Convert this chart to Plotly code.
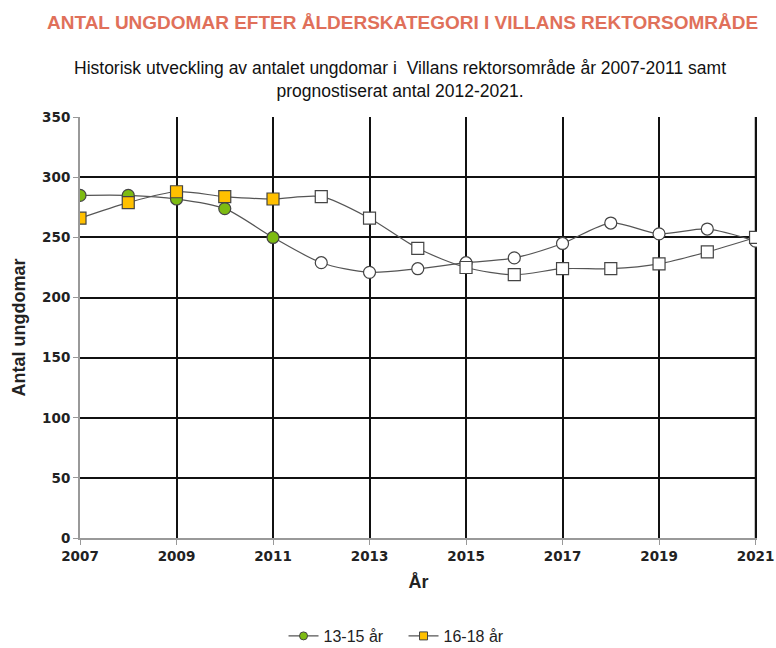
import plotly.graph_objects as go

years = list(range(2007, 2022))
ung_13_15 = [285, 285, 282, 274, 250, 229, 221, 224, 229, 233, 245, 262, 253, 257, 247]
ung_16_18 = [266, 279, 288, 284, 282, 284, 266, 241, 225, 219, 224, 224, 228, 238, 250]
historic_years = [2007, 2008, 2009, 2010, 2011]

tick_years = [2007, 2009, 2011, 2013, 2015, 2017, 2019, 2021]
y_ticks = [0, 50, 100, 150, 200, 250, 300, 350]

FONT = "Liberation Sans, Arial"
NARROW = "Liberation Sans Narrow, Arial Narrow, Liberation Sans"
WIDE = "DejaVu Sans, Verdana"

GREEN = "#7DBB12"
YELLOW = "#FFC000"


def marker_colors(fill):
    # farg for historiska ar, vitt for prognos
    return [fill if y in historic_years else "white" for y in years]


fig = go.Figure()
fig.add_trace(go.Scatter(
    x=years, y=ung_13_15, name="13-15 år", showlegend=False,
    mode="lines+markers",
    line=dict(color="#555555", width=1.2, shape="spline", smoothing=0.8),
    marker=dict(symbol="circle", size=12, color=marker_colors(GREEN),
                line=dict(color="#444444", width=1.2)),
))
fig.add_trace(go.Scatter(
    x=years, y=ung_16_18, name="16-18 år", showlegend=False,
    mode="lines+markers",
    line=dict(color="#555555", width=1.2, shape="spline", smoothing=0.8),
    marker=dict(symbol="square", size=12, color=marker_colors(YELLOW),
                line=dict(color="#444444", width=1.2)),
))
# legend-poster med mindre markorer
for name, sym, col in [("13-15 år", "circle", GREEN), ("16-18 år", "square", YELLOW)]:
    fig.add_trace(go.Scatter(
        x=[None], y=[None], name=name, mode="lines+markers",
        line=dict(color="#555555", width=1.2),
        marker=dict(symbol=sym, size=8, color=col, line=dict(color="#444444", width=1)),
    ))

# sista lodraata stodlinjen (2021) ritas inte av plotly vid kanten
fig.add_vline(x=tick_years[-1], line=dict(color="#111111", width=1.6), layer="below")

fig.update_layout(
    width=776, height=648,
    margin=dict(l=80, r=19, t=117, b=110, autoexpand=False),
    paper_bgcolor="white", plot_bgcolor="white",
    font=dict(family=FONT, color="#222222"),
    showlegend=True,
    legend=dict(orientation="h", x=0.52, xref="container", xanchor="center",
                y=1 - 636 / 648, yref="container", yanchor="middle",
                entrywidth=75, entrywidthmode="pixels",
                font=dict(size=16, family=NARROW, color="#222222")),
    annotations=[
        dict(text="<b>ANTAL UNGDOMAR EFTER ÅLDERSKATEGORI I VILLANS REKTORSOMRÅDE</b>",
             xref="paper", yref="paper", x=0.476, y=1.0, yanchor="middle", yshift=95,
             showarrow=False, font=dict(size=19, color="#E0705A", family=FONT)),
        dict(text="Historisk utveckling av antalet ungdomar i  Villans rektorsområde år 2007-2011 samt<br>prognostiserat antal 2012-2021.",
             xref="paper", yref="paper", x=0.473, y=1.0, yanchor="middle", yshift=38,
             showarrow=False, font=dict(size=17.5, color="#111111", family=FONT)),
    ],
)

fig.update_xaxes(
    range=[2007, 2021.03], tickvals=tick_years,
    showgrid=True, gridcolor="#111111", gridwidth=1.6,
    showline=True, linecolor="#999999", linewidth=2,
    ticks="outside", ticklen=5, tickcolor="#999999",
    tickfont=dict(size=13.5, family=WIDE, color="#222222", weight="bold"),
    title=dict(text="<b>År</b>", font=dict(size=18, family=NARROW), standoff=12),
    zeroline=False,
)
fig.update_yaxes(
    range=[0, 350.2], tickvals=y_ticks,
    showgrid=True, gridcolor="#111111", gridwidth=1.6,
    showline=True, linecolor="#999999", linewidth=2,
    ticks="outside", ticklen=5, tickcolor="#999999",
    tickfont=dict(size=13.5, family=WIDE, color="#222222", weight="bold"),
    title=dict(text="<b>Antal ungdomar</b>", font=dict(size=18, family=NARROW), standoff=12),
    zeroline=False,
)

fig.write_html("out.html", config={"displayModeBar": False},
               post_script="document.body.style.margin='0';")
